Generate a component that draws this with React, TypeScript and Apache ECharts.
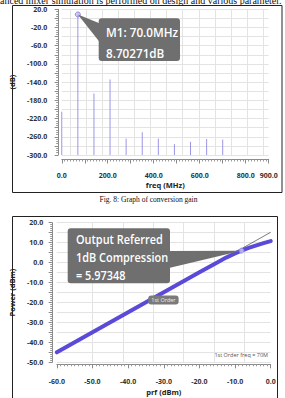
import React, { useEffect, useRef } from 'react';
import * as echarts from 'echarts';

// ---- Chart 1: conversion gain spectrum ----
const harmonicFreqs = [0, 70, 140, 210, 280, 350, 420, 490, 560, 630, 700];
const harmonicLevels = [-205, 8.70271, -165, -134, -264, -250, -264, -276, -271, -265, -266];
const freqGridLines = [35, 105, 175, 245, 315, 385, 455, 525, 595, 665, 735, 805, 875];
const freqLabels = [0, 200, 400, 600, 800, 900];
const marker1 = [70, 8.70271];

// ---- Chart 2: 1 dB compression ----
const inputPower = [-60, -50, -40, -30, -20, -15, -12.5, -10, -8.2, -6, -4, -2, 0];
const outputPower = [-45, -34.95, -24.9, -14.85, -4.8, 0.1, 2.5, 4.6, 5.97, 7.45, 8.65, 9.75, 10.8];
const linearRefIn = [-60, 0];
const linearRefOut = [-45, 15.2];
const prfGridLines = [-50, -41.5, -33, -24.5, -16, -7.5];
const compressionPoint = [-8.2, 5.97348];
const orderLabelPos = [-30.1, -18.8];

const SANS = '"Open Sans", "Noto Sans", sans-serif';
const SERIF = '"Liberation Serif", "DejaVu Serif", serif';

export default function App() {
  const ref = useRef<HTMLDivElement>(null);
  useEffect(() => {
    const el = ref.current as HTMLDivElement;
    const chart = echarts.init(el, null, { renderer: 'svg' });

    const axisFont = { fontSize: 7, fontWeight: 'bold' as const, color: '#333', fontFamily: SANS };
    const nameFont = { fontSize: 7.5, fontWeight: 'bold' as const, color: '#222', fontFamily: SANS };
    const axisLineStyle = { color: '#8a8a8a', width: 1 };

    const vGridSeries = (xi: number, lines: number[], base: number) => ({
      type: 'custom',
      xAxisIndex: xi,
      yAxisIndex: xi,
      silent: true,
      z: 1,
      data: lines.map((v) => [v, base]),
      renderItem: (params: any, api: any) => {
        const cs = params.coordSys;
        const x = Math.round(api.coord([api.value(0), api.value(1)])[0]) + 0.5;
        return {
          type: 'line',
          shape: { x1: x, y1: cs.y, x2: x, y2: cs.y + cs.height },
          style: { stroke: '#e3e3e3', lineWidth: 1 },
        };
      },
    });

    const option: any = {
      animation: false,
      backgroundColor: '#ffffff',
      grid: [
        { left: 55.3, right: 16.3, top: 9.3, height: 145.7 },
        { left: 51.7, right: 14.3, top: 222.7, height: 139.6 },
      ],
      xAxis: [
        {
          gridIndex: 0, type: 'value', min: 0, max: 900, interval: 100, offset: 4.5,
          axisLine: { show: true, onZero: false, lineStyle: axisLineStyle },
          axisTick: { show: true, length: 4, lineStyle: axisLineStyle },
          minorTick: { show: true, splitNumber: 8, length: 2, lineStyle: { color: '#9a9a9a' } },
          splitLine: { show: false },
          axisLabel: {
            ...axisFont, margin: 12, showMaxLabel: true, showMinLabel: true,
            formatter: (v: number) => (freqLabels.includes(v) ? v.toFixed(1) : ''),
          },
          name: 'freq (MHz)', nameLocation: 'middle', nameGap: 21, nameTextStyle: nameFont,
        },
        {
          gridIndex: 1, type: 'value', min: -60, max: 0, interval: 10, offset: 2,
          axisLine: { show: true, onZero: false, lineStyle: axisLineStyle },
          axisTick: { show: true, length: 4, lineStyle: axisLineStyle },
          minorTick: { show: true, splitNumber: 10, length: 2, lineStyle: { color: '#9a9a9a' } },
          splitLine: { show: false },
          axisLabel: { ...axisFont, margin: 14, formatter: (v: number) => v.toFixed(1) },
          name: 'prf (dBm)', nameLocation: 'middle', nameGap: 24, nameTextStyle: nameFont,
        },
      ],
      yAxis: [
        {
          gridIndex: 0, type: 'value', min: -300, max: 20, interval: 20, offset: 3.6,
          axisLine: { show: true, onZero: false, lineStyle: axisLineStyle },
          axisTick: { show: true, length: 3.5, lineStyle: axisLineStyle },
          minorTick: { show: true, splitNumber: 4, length: 2, lineStyle: { color: '#9a9a9a' } },
          splitLine: { show: true, lineStyle: { color: '#e3e3e3', width: 1 } },
          axisLabel: {
            ...axisFont, margin: 11,
            formatter: (v: number) => ((v + 300) % 40 === 0 ? v.toFixed(1) : ''),
          },
          name: '(dB)', nameLocation: 'middle', nameGap: 31, nameTextStyle: nameFont,
        },
        {
          gridIndex: 1, type: 'value', min: -50, max: 20, interval: 5, offset: 4.7,
          axisLine: { show: true, onZero: false, lineStyle: axisLineStyle },
          axisTick: { show: true, length: 3.5, lineStyle: axisLineStyle },
          minorTick: { show: true, splitNumber: 5, length: 2, lineStyle: { color: '#9a9a9a' } },
          splitLine: { show: true, lineStyle: { color: '#e3e3e3', width: 1 } },
          axisLabel: {
            ...axisFont, margin: 9,
            formatter: (v: number) => (v % 10 === 0 ? v.toFixed(1) : ''),
          },
          name: 'Power (dBm)', nameLocation: 'middle', nameGap: 26, nameTextStyle: nameFont,
        },
      ],
      series: [
        vGridSeries(0, freqGridLines, -300),
        {
          type: 'custom', xAxisIndex: 0, yAxisIndex: 0, z: 3,
          data: harmonicFreqs.map((f, i) => [f, harmonicLevels[i]]),
          renderItem: (params: any, api: any) => {
            const top = api.coord([api.value(0), api.value(1)]);
            const base = api.coord([api.value(0), -300]);
            return {
              type: 'line',
              shape: { x1: top[0], y1: top[1], x2: base[0], y2: base[1] },
              style: { stroke: '#9c96e6', lineWidth: 1 },
            };
          },
        },
        {
          type: 'scatter', xAxisIndex: 0, yAxisIndex: 0, z: 5,
          data: [marker1], symbolSize: 5,
          itemStyle: { color: '#c4bdf3', borderColor: '#7d70e0', borderWidth: 1 },
        },
        vGridSeries(1, prfGridLines, -50),
        {
          type: 'line', xAxisIndex: 1, yAxisIndex: 1, z: 3,
          data: linearRefIn.map((x, i) => [x, linearRefOut[i]]),
          showSymbol: false, lineStyle: { color: '#444', width: 0.7 },
        },
        {
          type: 'line', xAxisIndex: 1, yAxisIndex: 1, z: 4,
          data: inputPower.map((x, i) => [x, outputPower[i]]),
          showSymbol: false, smooth: false,
          lineStyle: { color: '#5b4ad8', width: 4, join: 'round', cap: 'round' },
          markPoint: {
            symbol: 'circle', symbolSize: 0, z: 20,
            label: {
              show: true, position: 'inside', formatter: '1st Order', fontSize: 5.5,
              color: '#eeeeee', backgroundColor: '#7a7a7a', borderRadius: 3, padding: [1.5, 3],
              fontFamily: SANS, opacity: 1,
            },
            data: [{ coord: orderLabelPos }],
          },
        },
        {
          type: 'scatter', xAxisIndex: 1, yAxisIndex: 1, z: 6,
          data: [compressionPoint], symbolSize: 5,
          itemStyle: { color: '#d0cbf5', borderColor: '#9088e0', borderWidth: 1 },
        },
      ],
    };
    chart.setOption(option);

    const p1 = chart.convertToPixel({ xAxisIndex: 0, yAxisIndex: 0 }, marker1) as number[];
    const p2 = chart.convertToPixel({ xAxisIndex: 1, yAxisIndex: 1 }, compressionPoint) as number[];
    const boxFill = '#6f6f6f';
    const annFont = `600 13px ${SANS}`;

    const annText = (text: string, x: number, y: number, sx: number) => ({
      type: 'text', x, y, z: 101, silent: true, scaleX: sx,
      style: { text, font: annFont, fill: '#fff', textVerticalAlign: 'middle' },
    });

    chart.setOption({
      graphic: [
        {
          type: 'text', x: 0, y: 5, silent: true,
          style: {
            text: 'anced mixer simulation is performed on design and various parameter.',
            font: `10px ${SERIF}`, fill: '#111', textVerticalAlign: 'bottom',
          },
        },
        {
          type: 'rect', silent: true,
          shape: { x: 12.5, y: 5.5, width: 269.5, height: 187 },
          style: { fill: 'none', stroke: '#222', lineWidth: 1 },
        },
        {
          type: 'text', x: 148.5, y: 199.5, silent: true,
          style: {
            text: 'Fig. 8: Graph of conversion gain', font: `7.5px ${SERIF}`, fill: '#111',
            textAlign: 'center', textVerticalAlign: 'middle',
          },
        },
        {
          type: 'rect', silent: true,
          shape: { x: 12.5, y: 216.5, width: 265, height: 200 },
          style: { fill: 'none', stroke: '#222', lineWidth: 1 },
        },
        {
          type: 'polygon', silent: true, z: 100,
          shape: { points: [[p1[0], p1[1]], [100, 23.5], [100, 42.5]] },
          style: { fill: boxFill },
        },
        {
          type: 'rect', silent: true, z: 100,
          shape: { x: 98.7, y: 18.3, width: 81.3, height: 42.7, r: 3 },
          style: { fill: boxFill },
        },
        annText('M1: 70.0MHz', 106, 32, 0.9),
        annText('8.70271dB', 106, 53, 0.9),
        {
          type: 'polygon', silent: true, z: 100,
          shape: { points: [[169, 251], [169, 268], [p2[0], p2[1]]] },
          style: { fill: boxFill },
        },
        {
          type: 'rect', silent: true, z: 100,
          shape: { x: 67.7, y: 228.3, width: 102.3, height: 55, r: 3 },
          style: { fill: boxFill },
        },
        annText('Output Referred', 76, 239, 0.84),
        annText('1dB Compression', 76, 256.7, 0.84),
        annText('= 5.97348', 76, 275, 0.84),
        {
          type: 'text', x: 268, y: 355, z: 101, silent: true,
          style: {
            text: '1st Order freq = 70M', font: `5.5px ${SANS}`, fill: '#555',
            textAlign: 'right', textVerticalAlign: 'middle',
          },
        },
      ],
    });

    return () => chart.dispose();
  }, []);

  return (
    <div
      ref={ref}
      style={{ position: 'fixed', left: 0, top: 0, width: 285, height: 398, background: '#fff' }}
    />
  );
}
